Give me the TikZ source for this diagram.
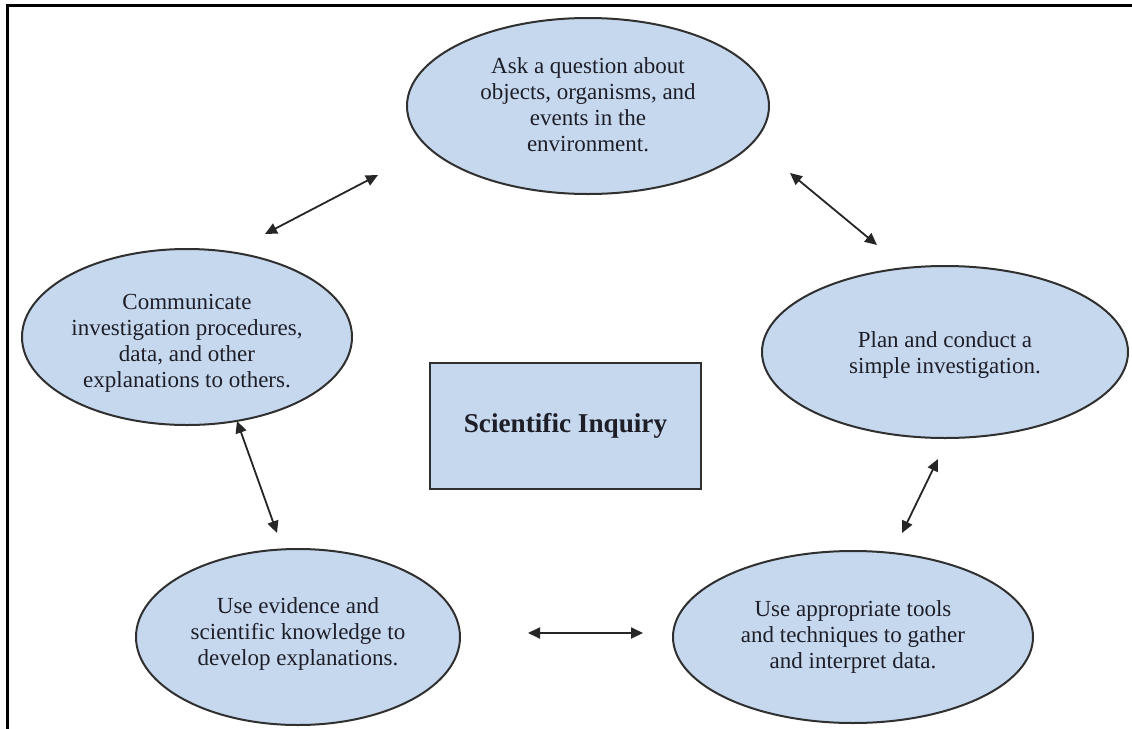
\documentclass[tikz,border=0pt]{standalone}
\usepackage{fontspec}
\setmainfont{Liberation Serif}
\usetikzlibrary{arrows.meta,shapes.geometric}
\definecolor{ellfill}{HTML}{C6D8EE}
\definecolor{ellline}{HTML}{303030}
\definecolor{txt}{HTML}{1E1E28}
\tikzset{
  oval/.style={ellipse, draw=ellline, line width=1pt, fill=ellfill, inner sep=0pt},
  label text/.style={align=center, text=txt, font=\fontsize{11.5pt}{13pt}\selectfont, inner sep=0pt},
  dblarrow/.style={{Triangle[length=6pt,width=5.5pt]}-{Triangle[length=6pt,width=5.5pt]}, line width=0.9pt, draw=black!85},
  frameline/.style={line width=1.5pt, draw=black}
}
\begin{document}
\begin{tikzpicture}[x=0.5pt,y=-0.5pt]
\useasboundingbox (0,0) rectangle (1132,729);
\fill[white] (0,0) rectangle (1132,729);
% frame
\coordinate (fa) at (7,729);
\coordinate (fb) at (7,5.5);
\coordinate (fc) at (1132,5.5);
\draw[frameline] (fa) -- (fb) -- (fc);
% ellipses
\node[oval, minimum width=181pt, minimum height=88pt] (ask) at (588,106) {};
\node[label text] (asktext) at (588,105) {Ask a question about\\objects, organisms, and\\events in the\\environment.};
\node[oval, minimum width=165pt, minimum height=88pt] (comm) at (187,337) {};
\node[label text] (commtext) at (187,343) {Communicate\\investigation procedures,\\data, and other\\explanations to others.};
\node[oval, minimum width=183pt, minimum height=86pt] (plan) at (945,352) {};
\node[label text] (plantext) at (945,355) {Plan and conduct a\\simple investigation.};
\node[oval, minimum width=162pt, minimum height=88pt] (evid) at (298,637) {};
\node[label text] (evidtext) at (298,634) {Use evidence and\\scientific knowledge to\\develop explanations.};
\node[oval, minimum width=180pt, minimum height=86pt] (tools) at (853,637) {};
\node[label text] (toolstext) at (853,637) {Use appropriate tools\\and techniques to gather\\and interpret data.};
% center box
\node[rectangle, draw=ellline, line width=1pt, fill=ellfill, minimum width=135.5pt, minimum height=63pt, inner sep=0pt,
      text=txt, font=\fontsize{13.6pt}{16pt}\selectfont\bfseries] (core) at (565.5,426) {Scientific Inquiry};
% arrow end points
\coordinate (a1s) at (265,234);
\coordinate (a1e) at (378,175);
\coordinate (a2s) at (790,173);
\coordinate (a2e) at (877,245);
\coordinate (a3s) at (528,633);
\coordinate (a3e) at (643,633);
\coordinate (a4s) at (237,421);
\coordinate (a4e) at (277,533);
\coordinate (a5s) at (938,459);
\coordinate (a5e) at (902,533);
\draw[dblarrow] (a1s) -- (a1e);
\draw[dblarrow] (a2s) -- (a2e);
\draw[dblarrow] (a3s) -- (a3e);
\draw[dblarrow] (a4s) -- (a4e);
\draw[dblarrow] (a5s) -- (a5e);
\end{tikzpicture}
\end{document}
